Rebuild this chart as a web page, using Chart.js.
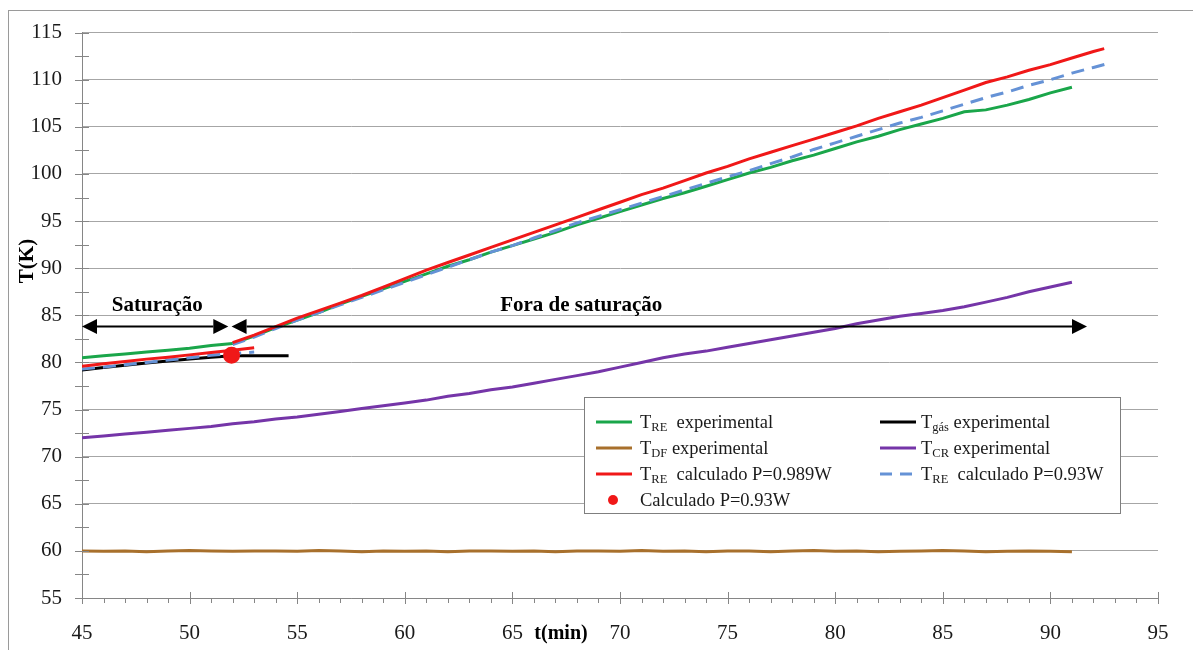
<!DOCTYPE html>
<html>
<head>
  <script src="https://cdn.jsdelivr.net/npm/chart.js"></script>
  <style>
    body { margin: 0; background: #fff; }
  </style>
</head>
<body>

<canvas id="chart" width="1193" height="650"></canvas>

<script>
// time axis (min), one value per minute, 45..91
const tFull = [45,46,47,48,49,50,51,52,53,54,55,56,57,58,59,60,61,62,63,64,65,66,67,68,69,70,
  71,72,73,74,75,76,77,78,79,80,81,82,83,84,85,86,87,88,89,90,91];

const treExp = [80.5,80.7,80.9,81.1,81.3,81.5,81.8,82.0,82.8,83.7,
  84.5,85.3,86.2,87.0,87.8,88.6,89.4,90.2,90.9,91.7,
  92.4,93.1,93.8,94.6,95.3,96.0,96.7,97.4,98.0,98.7,
  99.4,100.1,100.7,101.4,102.0,102.7,103.4,104.0,104.7,105.3,
  105.9,106.6,106.8,107.3,107.9,108.6,109.2];

const tdfExp = [60.0,59.95,60.0,59.9,60.0,60.05,60.0,59.95,60.0,60.0,
  59.95,60.05,60.0,59.9,60.0,59.95,60.0,59.9,60.0,60.0,
  59.95,60.0,59.9,60.0,60.0,59.95,60.05,59.95,60.0,59.9,
  60.0,60.0,59.9,60.0,60.05,59.95,60.0,59.9,59.95,60.0,
  60.05,60.0,59.9,59.95,60.0,59.95,59.9];

const tcrExp = [72.0,72.2,72.4,72.6,72.8,73.0,73.2,73.5,73.7,74.0,
  74.2,74.5,74.8,75.1,75.4,75.7,76.0,76.4,76.7,77.1,
  77.4,77.8,78.2,78.6,79.0,79.5,80.0,80.5,80.9,81.2,
  81.6,82.0,82.4,82.8,83.2,83.6,84.1,84.5,84.9,85.2,
  85.5,85.9,86.4,86.9,87.5,88.0,88.5];

// gas temperature (saturation part only)
const tGas = [45,46,47,48,49,50,51,52,53,54,54.6];
const tgasExp = [79.2,79.45,79.7,79.95,80.15,80.35,80.55,80.7,80.7,80.7,80.7];

// calculated curves inside saturation
const tSat = [45,46,47,48,49,50,51,52,53];
const treCalc989Sat = [79.6,79.85,80.1,80.35,80.55,80.8,81.05,81.3,81.55];
const treCalc93Sat = [79.3,79.5,79.75,80.0,80.25,80.5,80.75,80.95,81.1];

// calculated curves out of saturation
const tRed = [52,53,54,55,56,57,58,59,60,61,62,63,64,65,66,67,68,69,70,71,72,
  73,74,75,76,77,78,79,80,81,82,83,84,85,86,87,88,89,90,91,92,92.5];
const treCalc989 = [82.1,82.9,83.8,84.7,85.5,86.3,87.1,88.0,88.9,89.8,90.6,
  91.4,92.2,93.0,93.8,94.6,95.4,96.2,97.0,97.8,98.5,
  99.3,100.1,100.8,101.6,102.3,103.0,103.7,104.4,105.1,105.9,
  106.6,107.3,108.1,108.9,109.7,110.3,111.0,111.6,112.3,113.0,113.3];

const tBlue = [52,53,54,55,56,57,58,59,60,61,62,63,64,65,66,67,68,69,70,71,72,
  73,74,75,76,77,78,79,80,81,82,83,84,85,86,87,88,89,90,91,92,92.8];
const treCalc93 = [81.9,82.7,83.6,84.5,85.3,86.1,86.9,87.7,88.5,89.3,90.1,
  90.9,91.7,92.4,93.2,94.0,94.8,95.5,96.2,96.9,97.6,
  98.3,99.0,99.7,100.35,101.1,101.8,102.6,103.3,104.0,104.7,
  105.4,106.0,106.7,107.4,108.1,108.7,109.4,110.0,110.7,111.3,111.8];

// single calculated point
const ptCalc = [{x: 51.95, y: 80.75}];

const xy = (ts, vs) => ts.map((t, i) => ({x: t, y: vs[i]}));

const GREEN = "#1aa64a", BROWN = "#a8702c", RED = "#f01818",
      BLUE = "#6592d6", PURPLE = "#7535a8", BLACK = "#000000";
const SERIF = "'Liberation Serif', 'DejaVu Serif', serif";

const datasets = [
  {label: "Calculado P=0.93W", data: ptCalc, showLine: false, pointRadius: 7,
   pointBackgroundColor: RED, pointBorderColor: RED, borderColor: RED, backgroundColor: RED},
  {label: "TRE calculado P=0.989W", sub: "RE", rest: "  calculado P=0.989W",
   data: xy(tRed, treCalc989), borderColor: RED},
  {label: "", data: xy(tSat, treCalc989Sat), borderColor: RED},
  {label: "TRE calculado P=0.93W", sub: "RE", rest: "  calculado P=0.93W",
   data: xy(tBlue, treCalc93), borderColor: BLUE, borderDash: [13, 8]},
  {label: "", data: xy(tSat, treCalc93Sat), borderColor: BLUE, borderDash: [13, 8]},
  {label: "TRE experimental", sub: "RE", rest: "  experimental",
   data: xy(tFull, treExp), borderColor: GREEN},
  {label: "Tgás experimental", sub: "gás", rest: " experimental",
   data: xy(tGas, tgasExp), borderColor: BLACK},
  {label: "TCR experimental", sub: "CR", rest: " experimental",
   data: xy(tFull, tcrExp), borderColor: PURPLE},
  {label: "TDF experimental", sub: "DF", rest: " experimental",
   data: xy(tFull, tdfExp), borderColor: BROWN}
];
datasets.forEach(d => {
  if (d.pointRadius === undefined) d.pointRadius = 0;
  d.borderWidth = 3;
  d.fill = false;
  d.tension = 0;
});

// legend layout: [dataset index, column, row]
const legendItems = [[5, 0, 0], [8, 0, 1], [1, 0, 2], [0, 0, 3], [6, 1, 0], [7, 1, 1], [3, 1, 2]];

const overlay = {
  id: "overlay",
  afterDraw(chart) {
    const ctx = chart.ctx;
    const xs = chart.scales.x, ys = chart.scales.y;
    const area = chart.chartArea;
    ctx.save();

    // outer frame
    ctx.strokeStyle = "#9a9a9a";
    ctx.lineWidth = 1;
    ctx.strokeRect(8.5, 10.5, 1300, 700);

    // tick marks
    ctx.strokeStyle = "#868686";
    ctx.beginPath();
    for (let t = 45; t <= 95; t++) {
      const px = Math.round(xs.getPixelForValue(t)) + 0.5;
      if (t % 5 === 0) { ctx.moveTo(px, area.bottom - 6); ctx.lineTo(px, area.bottom + 6); }
      else { ctx.moveTo(px, area.bottom); ctx.lineTo(px, area.bottom + 5); }
    }
    for (let v = 55; v <= 115; v += 2.5) {
      const py = Math.round(ys.getPixelForValue(v)) + 0.5;
      ctx.moveTo(area.left - 7, py); ctx.lineTo(area.left + 7, py);
    }
    ctx.stroke();

    // saturation arrows
    const ay = ys.getPixelForValue(83.8);
    const arrow = (t0, t1) => {
      const x0 = xs.getPixelForValue(t0), x1 = xs.getPixelForValue(t1);
      const hl = 15, hh = 7.5;
      ctx.strokeStyle = BLACK; ctx.fillStyle = BLACK; ctx.lineWidth = 2;
      ctx.beginPath(); ctx.moveTo(x0 + hl, ay); ctx.lineTo(x1 - hl, ay); ctx.stroke();
      ctx.beginPath(); ctx.moveTo(x0, ay); ctx.lineTo(x0 + hl, ay - hh); ctx.lineTo(x0 + hl, ay + hh); ctx.closePath(); ctx.fill();
      ctx.beginPath(); ctx.moveTo(x1, ay); ctx.lineTo(x1 - hl, ay - hh); ctx.lineTo(x1 - hl, ay + hh); ctx.closePath(); ctx.fill();
    };
    arrow(45, 51.8);
    arrow(51.95, 91.7);

    ctx.fillStyle = BLACK;
    ctx.font = "bold 21px " + SERIF;
    ctx.textAlign = "center";
    ctx.textBaseline = "middle";
    ctx.fillText("Saturação", xs.getPixelForValue(48.5), ys.getPixelForValue(86.0));
    ctx.fillText("Fora de saturação", xs.getPixelForValue(68.2), ys.getPixelForValue(86.0));

    // axis titles
    ctx.font = "bold 20px " + SERIF;
    ctx.fillText("t(min)", 561, 634);
    ctx.save();
    ctx.translate(28, 261);
    ctx.rotate(-Math.PI / 2);
    ctx.font = "bold 21px " + SERIF;
    ctx.fillText("T(K)", 0, 0);
    ctx.restore();

    // legend box
    ctx.fillStyle = "#ffffff";
    ctx.fillRect(584, 397, 536, 116);
    ctx.strokeStyle = "#7f7f7f";
    ctx.lineWidth = 1;
    ctx.strokeRect(584.5, 397.5, 536, 116);

    const colLine = [596, 880], colText = [640, 921];
    const rowY = [422, 448, 474, 500];
    ctx.textAlign = "left";
    ctx.textBaseline = "alphabetic";
    legendItems.forEach(([i, c, r]) => {
      const d = chart.data.datasets[i];
      const y = rowY[r];
      if (d.showLine === false) {
        ctx.fillStyle = d.pointBackgroundColor;
        ctx.beginPath(); ctx.arc(colLine[c] + 17, y, 5, 0, Math.PI * 2); ctx.fill();
        ctx.fillStyle = "#1a1a1a";
        ctx.font = "18.5px " + SERIF;
        ctx.fillText(d.label, colText[c], y + 6);
        return;
      }
      ctx.strokeStyle = d.borderColor;
      ctx.lineWidth = 3;
      ctx.setLineDash(d.borderDash ? [12, 8] : []);
      ctx.beginPath(); ctx.moveTo(colLine[c], y); ctx.lineTo(colLine[c] + 36, y); ctx.stroke();
      ctx.setLineDash([]);
      ctx.fillStyle = "#1a1a1a";
      let x = colText[c];
      ctx.font = "18.5px " + SERIF;
      ctx.fillText("T", x, y + 6);
      x += ctx.measureText("T").width;
      ctx.font = "12.5px " + SERIF;
      ctx.fillText(d.sub, x, y + 9);
      x += ctx.measureText(d.sub).width;
      ctx.font = "18.5px " + SERIF;
      ctx.fillText(d.rest, x, y + 6);
    });

    ctx.restore();
  }
};

new Chart(document.getElementById("chart"), {
  type: "line",
  data: { datasets: datasets },
  options: {
    responsive: false,
    animation: false,
    layout: { padding: { top: 30, right: 35, left: 0, bottom: 0 } },
    plugins: { legend: { display: false }, tooltip: { enabled: false } },
    scales: {
      x: {
        type: "linear", min: 45, max: 95,
        afterFit: s => { s.height = 52; },
        border: { color: "#868686", width: 1 },
        grid: { drawOnChartArea: false, drawTicks: false },
        ticks: {
          stepSize: 1, autoSkip: false, maxRotation: 0, padding: 23,
          color: "#1a1a1a", font: { family: SERIF, size: 21 },
          callback: v => (v % 5 === 0 ? v : "")
        }
      },
      y: {
        type: "linear", min: 55, max: 115,
        afterFit: s => { s.width = 82; },
        border: { color: "#868686", width: 1 },
        grid: {
          drawTicks: false,
          color: c => (c.tick && c.tick.value % 5 === 0 ? "#a6a6a6" : "rgba(0,0,0,0)"),
          lineWidth: 1
        },
        ticks: {
          stepSize: 2.5, autoSkip: false, padding: 20,
          color: "#1a1a1a", font: { family: SERIF, size: 21 },
          callback: v => (v % 5 === 0 ? v : "")
        }
      }
    }
  },
  plugins: [overlay]
});
</script>

</body>
</html>
